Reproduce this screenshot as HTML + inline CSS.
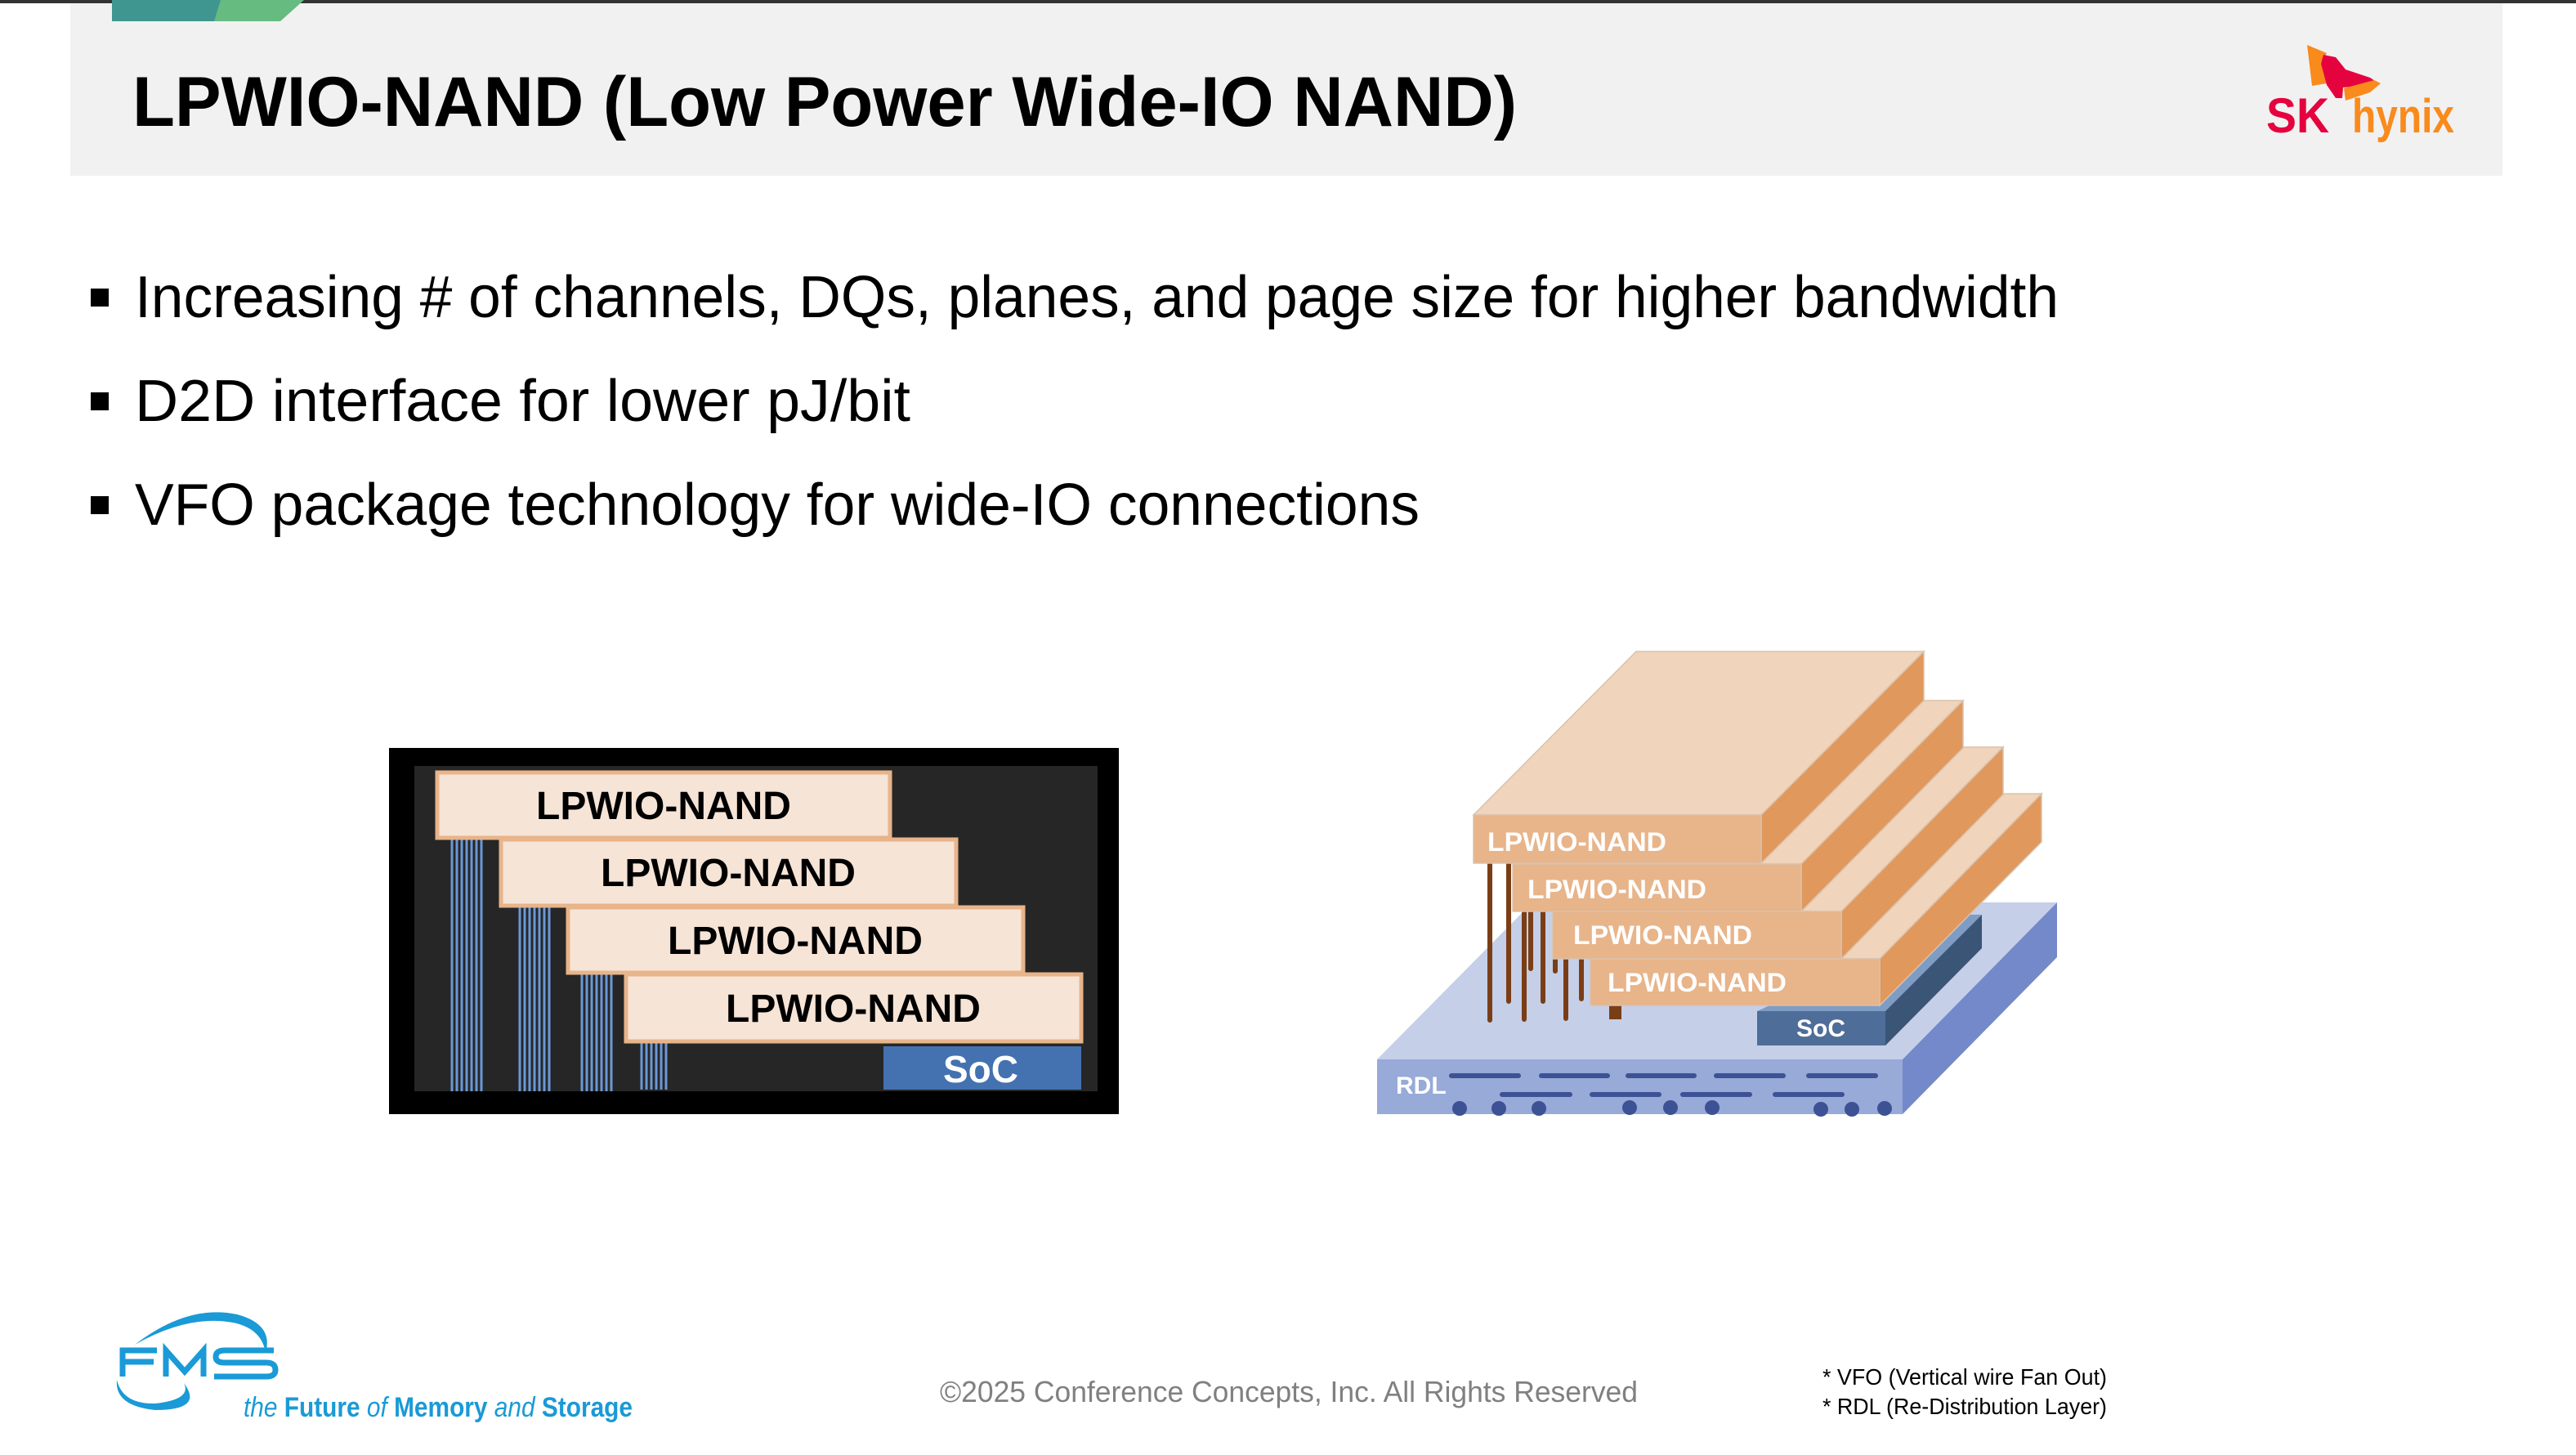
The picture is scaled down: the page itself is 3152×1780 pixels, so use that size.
<!DOCTYPE html>
<html><head><meta charset="utf-8"><style>
html,body{margin:0;padding:0;background:#fff;width:3152px;height:1780px;overflow:hidden}
svg{display:block}
text{font-family:"Liberation Sans",sans-serif}
</style></head><body>
<svg width="3152" height="1780" viewBox="0 0 3152 1780" xmlns="http://www.w3.org/2000/svg">
<rect x="0" y="0" width="3152" height="1780" fill="#fff"/>
<rect x="86" y="0" width="2976" height="215" fill="#f1f1f1"/>
<rect x="0" y="0" width="3152" height="4" fill="#333"/>
<polygon points="137,0 275,0 268,26 137,26" fill="#3f9690"/>
<polygon points="270,0 372,0 343,26 262,26" fill="#66bb80"/>
<text x="162" y="154" font-size="86" font-weight="bold" fill="#000" textLength="1694" lengthAdjust="spacingAndGlyphs">LPWIO-NAND (Low Power Wide-IO NAND)</text>
<polygon points="2823,55 2847,65 2840,77 2847,102 2829,105" fill="#f98a1c"/>
<polygon points="2843,67 2858,70 2870,85 2900,95 2912,103 2867,107 2866,120 2858,120 2847,104 2840,78" fill="#e5033f"/>
<polygon points="2868,108 2905,98 2913,102 2900,113 2870,123" fill="#f98a1c"/>
<text x="2773" y="162" font-size="60" font-weight="bold" fill="#e5033f" textLength="77" lengthAdjust="spacingAndGlyphs">SK</text>
<text x="2878" y="162" font-size="58" font-weight="600" fill="#f98a1c" textLength="125" lengthAdjust="spacingAndGlyphs" style="font-weight:bold">hynix</text>
<rect x="111" y="353" width="22" height="22" fill="#000"/>
<rect x="111" y="480" width="22" height="22" fill="#000"/>
<rect x="111" y="607" width="22" height="22" fill="#000"/>
<text x="165" y="388" font-size="72" fill="#000" textLength="2354" lengthAdjust="spacingAndGlyphs">Increasing # of channels, DQs, planes, and page size for higher bandwidth</text>
<text x="165" y="515" font-size="72" fill="#000" textLength="949" lengthAdjust="spacingAndGlyphs">D2D interface for lower pJ/bit</text>
<text x="165" y="642" font-size="72" fill="#000" textLength="1572" lengthAdjust="spacingAndGlyphs">VFO package technology for wide-IO connections</text>
<rect x="476" y="915" width="893" height="448" fill="#000"/>
<rect x="507" y="937" width="836" height="398" fill="#262626"/>
<g stroke="#6b98d6" stroke-width="3">
<path d="M553 1025V1335M559 1025V1335M565 1025V1335M571 1025V1335M577 1025V1335M583 1025V1335M589 1025V1335"/>
<path d="M636 1108V1335M642 1108V1335M648 1108V1335M654 1108V1335M660 1108V1335M666 1108V1335M672 1108V1335"/>
<path d="M712 1190V1335M718 1190V1335M724 1190V1335M730 1190V1335M736 1190V1335M742 1190V1335M748 1190V1335"/>
<path d="M785 1274V1333M791 1274V1333M797 1274V1333M803 1274V1333M809 1274V1333M815 1274V1333"/>
</g>
<g fill="#f6e4d7" stroke="#e8b48a" stroke-width="5">
<rect x="535" y="945" width="554" height="80"/>
<rect x="613" y="1027" width="557" height="81"/>
<rect x="695" y="1110" width="557" height="80"/>
<rect x="766" y="1192" width="557" height="82"/>
</g>
<g font-size="48" font-weight="bold" fill="#000" text-anchor="middle">
<text x="812" y="1002">LPWIO-NAND</text>
<text x="891" y="1084">LPWIO-NAND</text>
<text x="973" y="1167">LPWIO-NAND</text>
<text x="1044" y="1250">LPWIO-NAND</text>
</g>
<rect x="1081" y="1280" width="242" height="53" fill="#4472b0"/>
<text x="1200" y="1324" font-size="46" font-weight="bold" fill="#fff" text-anchor="middle">SoC</text>
<polygon points="1685,1296 2328,1296 2517,1104 1875,1104" fill="#c5cfe8"/>
<polygon points="2328,1296 2517,1104 2517,1171 2328,1363" fill="#7489c9"/>
<rect x="1685" y="1296" width="643" height="67" fill="#97aad8"/>
<text x="1708" y="1338" font-size="30" font-weight="bold" fill="#fff">RDL</text>
<g stroke="#3d5195" stroke-width="6" stroke-linecap="round">
<path d="M1776 1316H1858M1886 1316H1967M1992 1316H2073M2100 1316H2182M2213 1316H2295"/>
<path d="M1838 1339H1921M1948 1339H2030M2059 1339H2141M2172 1339H2254"/>
</g>
<g fill="#3d5195">
<ellipse cx="1786" cy="1356" rx="9" ry="9"/><ellipse cx="1834" cy="1356" rx="9" ry="9"/><ellipse cx="1883" cy="1356" rx="9" ry="9"/>
<ellipse cx="1994" cy="1355" rx="9" ry="9"/><ellipse cx="2044" cy="1355" rx="9" ry="9"/><ellipse cx="2095" cy="1355" rx="9" ry="9"/>
<ellipse cx="2228" cy="1357" rx="9" ry="9"/><ellipse cx="2266" cy="1357" rx="9" ry="9"/><ellipse cx="2306" cy="1356" rx="9" ry="9"/>
</g>
<polygon points="2150,1237 2307,1237 2425,1119 2410,1119" fill="#7f9cc4"/>
<polygon points="2307,1237 2425,1119 2425,1160 2307,1279" fill="#3a5575"/>
<rect x="2150" y="1237" width="157" height="42" fill="#4e6d99"/>
<text x="2228" y="1268" font-size="30" font-weight="bold" fill="#fff" text-anchor="middle">SoC</text>
<g stroke="#7a3e17" stroke-width="6" stroke-linecap="round">
<path d="M1823 1054V1248M1846 1054V1225M1865 1117V1247M1873 1116V1185M1888 1116V1225M1903 1173V1188M1916 1173V1246M1935 1173V1222"/>
</g>
<rect x="1969" y="1230" width="15" height="17" fill="#7a3e17"/>
<g stroke="#d9c2ad" stroke-width="1.5">
<polygon points="1946,1173 2300,1173 2498,971 2145,971" fill="#f0d4bb"/>
<polygon points="2300,1173 2498,971 2498,1030 2300,1230" fill="#e1985c"/>
<rect x="1946" y="1173" width="354" height="57" fill="#e8b48a"/>
<polygon points="1900,1115 2253,1115 2451,914 2098,914" fill="#f0d4bb"/>
<polygon points="2253,1115 2451,914 2451,972 2253,1173" fill="#e1985c"/>
<rect x="1900" y="1115" width="353" height="58" fill="#e8b48a"/>
<polygon points="1851,1057 2204,1057 2402,857 2049,857" fill="#f0d4bb"/>
<polygon points="2204,1057 2402,857 2402,915 2204,1115" fill="#e1985c"/>
<rect x="1851" y="1057" width="353" height="58" fill="#e8b48a"/>
<polygon points="1803,997 2155,997 2354,797 2002,797" fill="#f0d4bb"/>
<polygon points="2155,997 2354,797 2354,857 2155,1056" fill="#e1985c"/>
<rect x="1803" y="997" width="352" height="59" fill="#e8b48a"/>
</g>
<g font-size="32" font-weight="bold" fill="#fff">
<text x="1820" y="1041" textLength="219" lengthAdjust="spacingAndGlyphs">LPWIO-NAND</text>
<text x="1869" y="1099" textLength="219" lengthAdjust="spacingAndGlyphs">LPWIO-NAND</text>
<text x="1925" y="1155" textLength="219" lengthAdjust="spacingAndGlyphs">LPWIO-NAND</text>
<text x="1967" y="1213" textLength="219" lengthAdjust="spacingAndGlyphs">LPWIO-NAND</text>
</g>
<path d="M165 1645 Q230 1595 290 1608 Q335 1620 325 1655 Q320 1625 285 1618 Q230 1608 165 1645Z" fill="#1a9ad6"/>
<path d="M143 1688 Q140 1720 190 1725 Q250 1725 225 1692 Q235 1712 190 1717 Q150 1718 143 1688Z" fill="#1a9ad6"/>
<g fill="none" stroke="#1a9ad6" stroke-width="7">
<path d="M150 1684V1652H192M150 1666H188"/>
<path d="M203 1684V1652L226 1678L249 1652V1684"/>
<path d="M335 1652H275Q264 1652 264 1660Q264 1667 275 1667H326Q337 1667 337 1676Q337 1684 326 1684H262"/>
</g>
<text x="298" y="1733" font-size="34" fill="#1a9ad6" textLength="476" lengthAdjust="spacingAndGlyphs"><tspan font-style="italic">the </tspan><tspan font-weight="bold">Future </tspan><tspan font-style="italic">of </tspan><tspan font-weight="bold">Memory </tspan><tspan font-style="italic">and </tspan><tspan font-weight="bold">Storage</tspan></text>
<text x="1150" y="1715" font-size="36" fill="#808080" textLength="854" lengthAdjust="spacingAndGlyphs">©2025 Conference Concepts, Inc. All Rights Reserved</text>
<text x="2230" y="1694" font-size="28" fill="#000" textLength="348" lengthAdjust="spacingAndGlyphs">* VFO (Vertical wire Fan Out)</text>
<text x="2230" y="1730" font-size="28" fill="#000" textLength="348" lengthAdjust="spacingAndGlyphs">* RDL (Re-Distribution Layer)</text>
</svg>
</body></html>
